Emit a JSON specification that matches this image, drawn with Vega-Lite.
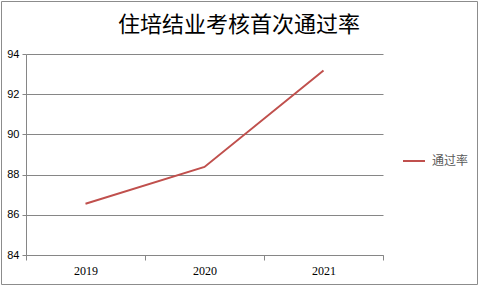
{
  "$schema": "https://vega.github.io/schema/vega-lite/v6.json",
  "width": 476,
  "height": 283,
  "autosize": "none",
  "padding": {"left": 1, "top": 1, "right": 4, "bottom": 5},
  "background": "white",
  "title": {
    "text": "住培结业考核首次通过率",
    "font": "Noto Sans CJK SC",
    "fontSize": 22,
    "fontWeight": "normal",
    "color": "#000000",
    "frame": "group",
    "anchor": "middle",
    "orient": "top",
    "baseline": "middle",
    "offset": -21.5,
    "dy": 24.5
  },
  "config": {"view": {"stroke": "#8c8c8c", "strokeWidth": 1}},
  "data": {
    "values": [
      {"year": 2019, "rate": 86.55, "series": "通过率"},
      {"year": 2020, "rate": 88.38, "series": "通过率"},
      {"year": 2021, "rate": 93.18, "series": "通过率"}
    ]
  },
  "mark": {"type": "line", "strokeWidth": 2},
  "encoding": {
    "x": {
      "field": "year",
      "type": "quantitative",
      "scale": {"domain": [2018.5, 2021.5], "range": [25, 382], "nice": false, "zero": false},
      "axis": {
        "values": [2018.5, 2019, 2019.5, 2020, 2020.5, 2021, 2021.5],
        "labelExpr": "datum.value % 1 == 0 ? format(datum.value, 'd') : ''",
        "tickOpacity": {"condition": {"test": "datum.value % 1 != 0", "value": 1}, "value": 0},
        "offset": -29,
        "grid": false,
        "tickSize": 5,
        "domainColor": "#868686",
        "tickColor": "#868686",
        "labelFont": "Liberation Serif",
        "labelFontSize": 12,
        "labelColor": "#000000",
        "labelPadding": 5,
        "labelOverlap": false,
        "labelFlush": false,
        "title": null
      }
    },
    "y": {
      "field": "rate",
      "type": "quantitative",
      "scale": {"domain": [84, 94], "range": [254, 53], "nice": false, "zero": false},
      "axis": {
        "values": [84, 86, 88, 90, 92, 94],
        "offset": -25,
        "grid": true,
        "gridColor": "#868686",
        "domainColor": "#868686",
        "tickColor": "#868686",
        "tickSize": 4,
        "labelFont": "Liberation Sans",
        "labelFontSize": 11,
        "labelColor": "#000000",
        "labelPadding": 3,
        "title": null
      }
    },
    "color": {
      "field": "series",
      "type": "nominal",
      "scale": {"range": ["#C0504D"]},
      "legend": {
        "orient": "none",
        "legendX": 401,
        "legendY": 148,
        "title": null,
        "padding": 0,
        "symbolType": "stroke",
        "symbolSize": 484,
        "symbolStrokeWidth": 2,
        "labelFont": "Noto Sans CJK SC",
        "labelFontSize": 12,
        "labelColor": "#595959",
        "labelOffset": 6
      }
    }
  }
}
